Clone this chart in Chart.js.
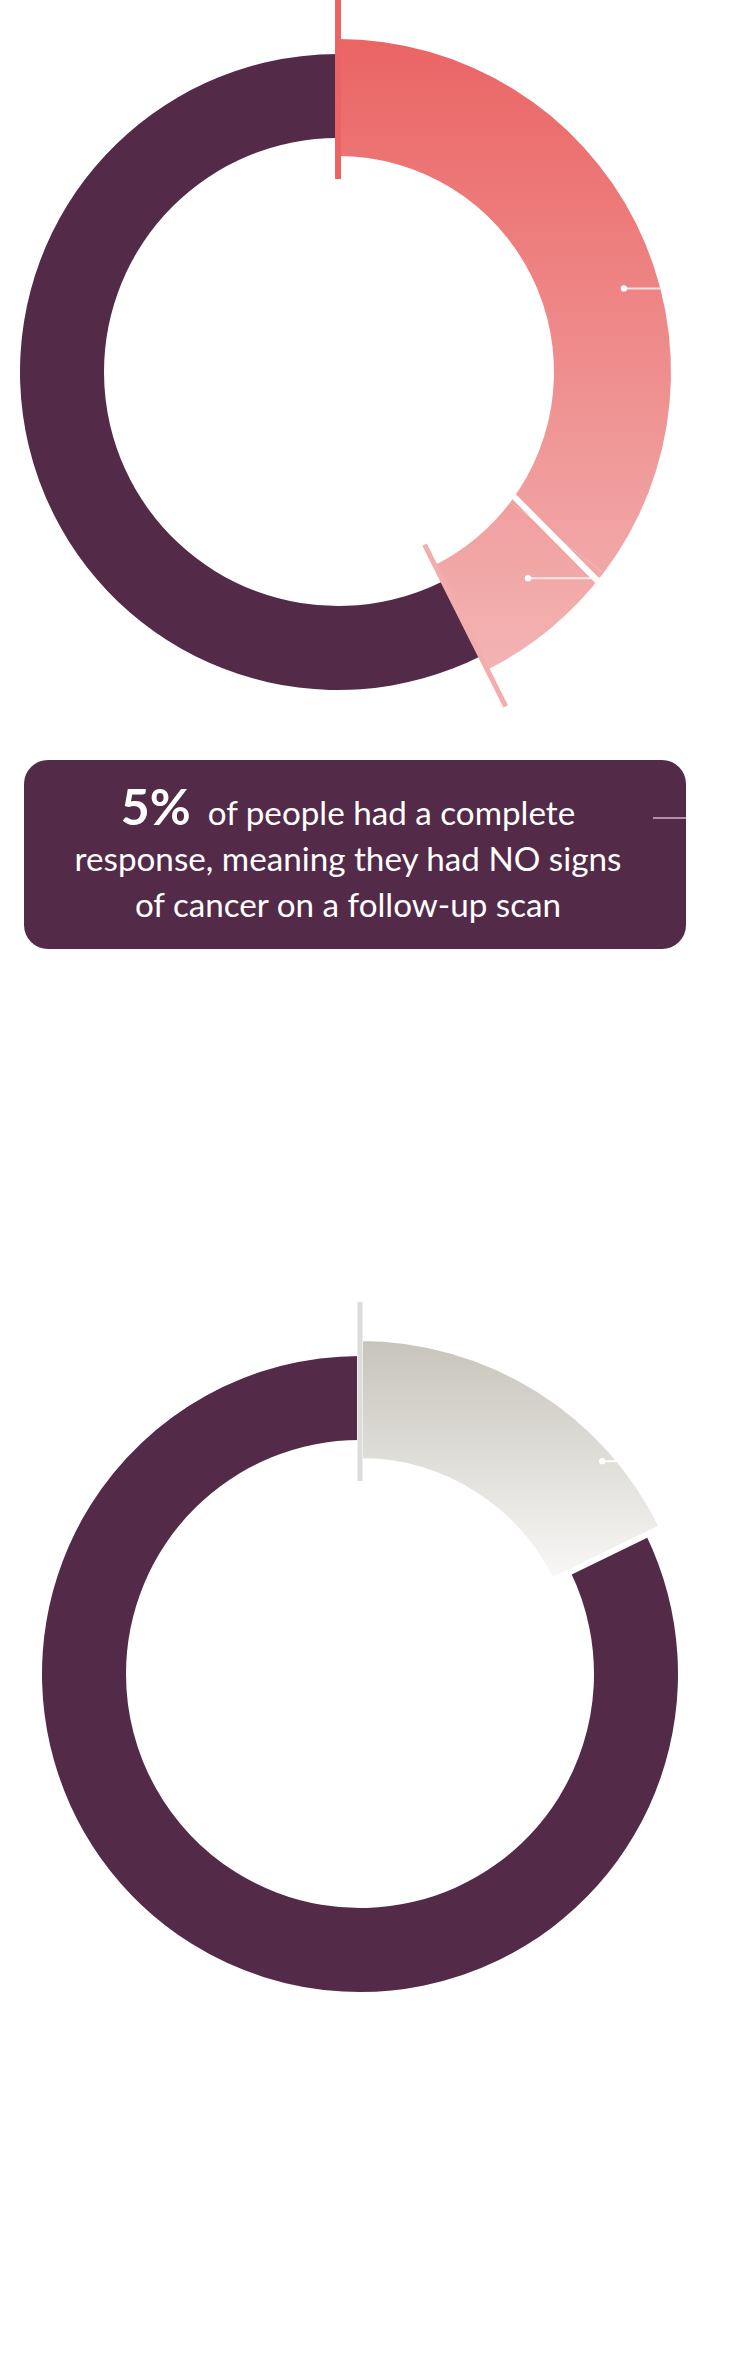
<!DOCTYPE html>
<html>
<head>
<meta charset="utf-8">
<script src="https://cdn.jsdelivr.net/npm/chart.js"></script>
<style>
  html, body { margin: 0; padding: 0; background: #ffffff; }
  body { width: 750px; height: 2372px; position: relative; overflow: hidden; font-family: Lato, "Open Sans", sans-serif; }
  .wrap { position: absolute; left: 0; width: 750px; height: 744px; }
  .wrap canvas { position: absolute; left: 0; top: 0; }
  #box { position: absolute; left: 24px; top: 760px; width: 662px; height: 189px; background: #532A48; border-radius: 24px; }
  #boxLeader { position: absolute; left: 629px; top: 57px; width: 33px; height: 2px; background: #B98CAE; }
  .txt { position: absolute; left: 0; width: 696px; text-align: center; color: #ffffff; line-height: 47px; white-space: nowrap; }
  .txt b { font-weight: 700; line-height: 0; }
</style>
</head>
<body>

<div class="wrap" id="w1" style="top:0px;">
  <canvas id="ring1"></canvas>
  <canvas id="seg1"></canvas>
</div>

<div id="box"><div id="boxLeader"></div></div>
<div class="txt" id="t1"><b id="big">5%</b><span id="t1s" style="margin-left:17px">of people had a complete</span></div>
<div class="txt" id="t2"><span id="t2s">response, meaning they had NO signs</span></div>
<div class="txt" id="t3"><span id="t3s">of cancer on a follow-up scan</span></div>

<div class="wrap" id="w2" style="top:1302px;">
  <canvas id="ring2"></canvas>
  <canvas id="seg2"></canvas>
</div>

<script>
// ---------- DATA ----------
const categoriesA = ['Partial response', 'Complete response', 'No response'];
const valuesA = [35.3, 7.3, 57.4];

const categoriesB = ['Highlighted group', 'Rest'];
const valuesB = [17.8, 82.2];

// ---------- STYLE ----------
const PURPLE = '#532A48';
const CLEAR = 'rgba(0,0,0,0)';

// fit text
(function fitText() {
  const t2 = document.getElementById('t2');
  const s2 = document.getElementById('t2s');
  t2.style.fontSize = '29px';
  const w = s2.getBoundingClientRect().width;
  const F = 29 * 547 / w;
  ['t1', 't2', 't3'].forEach(id => { document.getElementById(id).style.fontSize = F + 'px'; });
  document.getElementById('big').style.fontSize = '50px';
  const baselines = { t1: 825, t2: 871, t3: 917 };
  Object.keys(baselines).forEach(id => {
    const top = baselines[id] - (23.5 + 0.387 * F);
    document.getElementById(id).style.top = top + 'px';
  });
})();

function vGradient(chart, y0, y1, c0, c1) {
  const area = chart.chartArea;
  if (!area) return c0;
  const cy = (area.top + area.bottom) / 2;
  const g = chart.ctx.createLinearGradient(0, cy + y0, 0, cy + y1);
  g.addColorStop(0, c0);
  g.addColorStop(1, c1);
  return g;
}

const DEG = Math.PI / 180;

const decorPlugin = {
  id: 'decor',
  afterDatasetsDraw(chart, args, opts) {
    const arcs = chart.getDatasetMeta(0).data;
    if (!arcs || !arcs.length) return;
    const ctx = chart.ctx;
    const cx = arcs[0].x, cy = arcs[0].y;
    const pt = (a, r) => [cx + Math.cos(a) * r, cy + Math.sin(a) * r];
    (opts.separators || []).forEach(s => {
      const arc = arcs[s.index];
      const b = arc.endAngle;
      const p0 = pt(b - s.skew0 * DEG, arc.innerRadius - 1);
      const p1 = pt(b + s.skew1 * DEG, arc.outerRadius + 3);
      ctx.save();
      ctx.strokeStyle = s.color;
      ctx.lineWidth = s.width;
      ctx.lineCap = 'butt';
      ctx.beginPath();
      ctx.moveTo(p0[0], p0[1]);
      ctx.lineTo(p1[0], p1[1]);
      ctx.stroke();
      ctx.restore();
    });
    (opts.ticks || []).forEach(t => {
      const arc = arcs[t.index];
      const a = t.edge === 'start' ? arc.startAngle : arc.endAngle;
      const p0 = pt(a, t.r0), p1 = pt(a, t.r1);
      ctx.save();
      ctx.strokeStyle = t.color;
      ctx.lineWidth = t.width;
      ctx.lineCap = 'butt';
      ctx.beginPath();
      ctx.moveTo(p0[0], p0[1]);
      ctx.lineTo(p1[0], p1[1]);
      ctx.stroke();
      ctx.restore();
    });
    (opts.dots || []).forEach(d => {
      const arc = arcs[d.index];
      const a = arc.startAngle + (arc.endAngle - arc.startAngle) * d.frac;
      const inner = arc.innerRadius + d.inset, outer = arc.outerRadius - d.inset;
      const r = inner + (outer - inner) * d.depth;
      const x = cx + Math.cos(a) * r, y = cy + Math.sin(a) * r;
      const dy = y - cy;
      const xEnd = cx + Math.sqrt(Math.max(outer * outer - dy * dy, 0));
      ctx.save();
      ctx.strokeStyle = d.lineColor;
      ctx.lineWidth = 2;
      ctx.beginPath();
      ctx.moveTo(x, y);
      ctx.lineTo(xEnd, y);
      ctx.stroke();
      ctx.fillStyle = '#ffffff';
      ctx.beginPath();
      ctx.arc(x, y, 3.2, 0, Math.PI * 2);
      ctx.fill();
      ctx.restore();
    });
  }
};

function baseOptions(radius, inner, padRight) {
  return {
    responsive: false,
    animation: false,
    events: [],
    radius: radius,
    cutout: (inner / radius * 100) + '%',
    layout: { padding: { left: 0, right: padRight, top: 0, bottom: 0 } },
    plugins: { legend: { display: false }, tooltip: { enabled: false } }
  };
}

function makeRing(id, labels, values, colors, padRight) {
  const cv = document.getElementById(id);
  cv.width = 750; cv.height = 744;
  return new Chart(cv, {
    type: 'doughnut',
    data: { labels: labels, datasets: [{ data: values, backgroundColor: colors, borderWidth: 0 }] },
    options: baseOptions(318, 234, padRight)
  });
}

function makeSeg(id, labels, values, bg, borders, radius, inner, padRight, decor) {
  const cv = document.getElementById(id);
  cv.width = 750; cv.height = 744;
  const opts = baseOptions(radius, inner, padRight);
  opts.plugins.decor = decor;
  return new Chart(cv, {
    type: 'doughnut',
    data: { labels: labels, datasets: [{
      data: values,
      backgroundColor: bg,
      borderColor: '#ffffff',
      borderWidth: borders,
      borderJoinStyle: 'miter'
    }] },
    options: opts,
    plugins: [decorPlugin]
  });
}

// ---------- CHART 1 ----------
makeRing('ring1', categoriesA, valuesA, [CLEAR, CLEAR, PURPLE], 750 - 2 * 338);
makeSeg('seg1', categoriesA, valuesA,
  (c) => c.dataIndex < 2 ? vGradient(c.chart, -334, 300, '#EB6464', '#F3B4B4') : CLEAR,
  [0, 0, 0], 333, 216, 750 - 2 * 338,
  {
    separators: [
      { index: 0, skew0: 1.8, skew1: 1.8, color: '#ffffff', width: 6 }
    ],
    ticks: [
      { index: 0, edge: 'start', color: '#EC6363', width: 6, r0: 193, r1: 374 },
      { index: 1, edge: 'end', color: '#F3ADAD', width: 5, r0: 193, r1: 374 }
    ],
    dots: [
      { index: 0, frac: 0.58, depth: 0.70, inset: 0, lineColor: 'rgba(255,240,240,0.85)' },
      { index: 1, frac: 0.39, depth: 0.55, inset: 0, lineColor: 'rgba(255,240,240,0.85)' }
    ]
  });

// ---------- CHART 2 ----------
makeRing('ring2', categoriesB, valuesB, [CLEAR, PURPLE], 750 - 2 * 360);
makeSeg('seg2', categoriesB, valuesB,
  (c) => c.dataIndex < 1 ? vGradient(c.chart, -334, -60, '#C7C4BB', '#FFFFFF') : CLEAR,
  [6, 0], 336, 213, 750 - 2 * 360,
  {
    ticks: [
      { index: 0, edge: 'start', color: '#DCDCDC', width: 5, r0: 193, r1: 373 }
    ],
    dots: [
      { index: 0, frac: 0.76, depth: 0.91, inset: 3, lineColor: 'rgba(255,255,255,0.9)' }
    ]
  });
</script>
</body>
</html>
